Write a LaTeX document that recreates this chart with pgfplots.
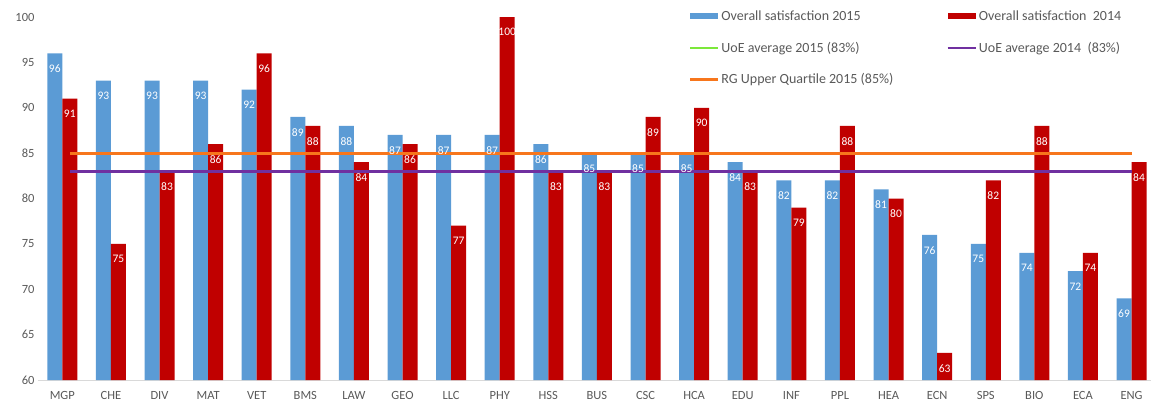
\documentclass[border=0pt]{standalone}
\usepackage{fontspec}
\setmainfont{Carlito}
\usepackage{pgfplots}
\pgfplotsset{compat=1.18}
\definecolor{c15}{HTML}{5B9BD5}
\definecolor{c14}{HTML}{C00000}
\definecolor{cgreen}{HTML}{7CE83A}
\definecolor{cpurple}{HTML}{7030A0}
\definecolor{corange}{HTML}{F7761C}
\definecolor{ctext}{HTML}{595959}
\begin{document}
\begin{tikzpicture}
\path[use as bounding box] (-38pt,-30pt) rectangle (1113pt,380pt);
\begin{axis}[
  at={(0pt,0pt)}, anchor=south west,
  scale only axis, width=1113pt, height=363pt,
  xmin=-0.5, xmax=22.4, ymin=60, ymax=100,
  ytick={60,65,...,100},
  xtick={0,...,22},
  xticklabels={MGP,CHE,DIV,MAT,VET,BMS,LAW,GEO,LLC,PHY,HSS,BUS,CSC,HCA,EDU,INF,PPL,HEA,ECN,SPS,BIO,ECA,ENG},
  axis x line*=bottom, axis y line*=left,
  y axis line style={draw=none},
  x axis line style={draw=black!15, line width=1pt},
  major tick length=0pt,
  tick label style={font=\fontsize{12.5}{14}\selectfont, text=ctext},
  xticklabel style={yshift=-8pt},
  /pgf/number format/assume math mode=true,
  clip=false,
  legend columns=2,
  legend cell align=left,
  legend style={at={(0.582,1.029)}, anchor=north west, draw=none, fill=none,
    font=\fontsize{14}{16}\selectfont, text=ctext, row sep=16pt,
    /tikz/every even column/.append style={column sep=51pt}},
  every node near coord/.append style={anchor=north, yshift=-8pt, text=white, font=\fontsize{11.5}{13}\selectfont},
]
\addplot[ybar, bar width=15pt, bar shift=-7.5pt, fill=c15, draw=none, nodes near coords,
  every node near coord/.append style={xshift=-7.5pt},
  legend image code/.code={\fill[c15] (0pt,-3pt) rectangle (28pt,3pt);}]
coordinates {(0,96) (1,93) (2,93) (3,93) (4,92) (5,89) (6,88) (7,87) (8,87) (9,87) (10,86) (11,85) (12,85) (13,85) (14,84) (15,82) (16,82) (17,81) (18,76) (19,75) (20,74) (21,72) (22,69)};
\addlegendentry{Overall satisfaction 2015}
\addplot[ybar, bar width=15pt, bar shift=7.5pt, fill=c14, draw=none, nodes near coords,
  every node near coord/.append style={xshift=7.5pt},
  legend image code/.code={\fill[c14] (0pt,-3pt) rectangle (28pt,3pt);}]
coordinates {(0,91) (1,75) (2,83) (3,86) (4,96) (5,88) (6,84) (7,86) (8,77) (9,100) (10,83) (11,83) (12,89) (13,90) (14,83) (15,79) (16,88) (17,80) (18,63) (19,82) (20,88) (21,74) (22,84)};
\addlegendentry{Overall satisfaction\ \ 2014}
\addplot[cgreen, line width=3pt, mark=none,
  legend image code/.code={\draw[cgreen,line width=2.5pt] (0pt,0pt) -- (28pt,0pt);}]
coordinates {(0.16,83) (22,83)};
\addlegendentry{UoE average 2015 (83\%)}
\addplot[cpurple, line width=3pt, mark=none,
  legend image code/.code={\draw[cpurple,line width=2.5pt] (0pt,0pt) -- (28pt,0pt);}]
coordinates {(0.16,83) (22,83)};
\addlegendentry{UoE average 2014\ \ (83\%)}
\addplot[corange, line width=3pt, mark=none,
  legend image code/.code={\draw[corange,line width=2.5pt] (0pt,0pt) -- (28pt,0pt);}]
coordinates {(0.16,85) (22,85)};
\addlegendentry{RG Upper Quartile 2015 (85\%)}
\end{axis}
\end{tikzpicture}
\end{document}
